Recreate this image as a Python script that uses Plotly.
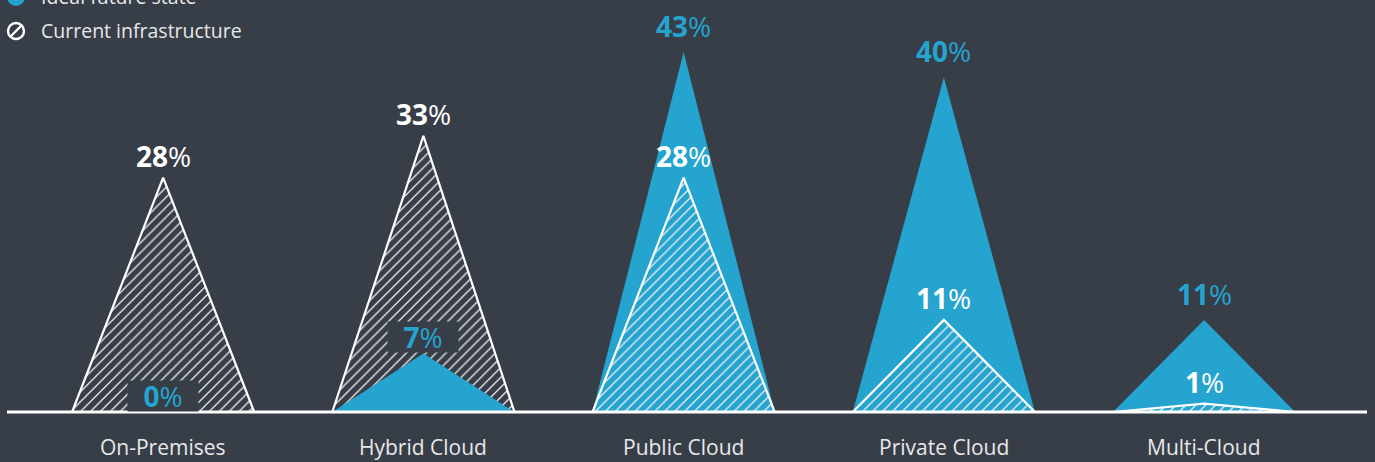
import plotly.graph_objects as go

# Share of respondents by infrastructure type
categories = ["On-Premises", "Hybrid Cloud", "Public Cloud", "Private Cloud", "Multi-Cloud"]
ideal_future = [0, 7, 43, 40, 11]
current_infra = [28, 33, 28, 11, 1]

BG = "#373e48"
BLUE = "#25a4d0"
WHITE = "#ffffff"
FONT = "Open Sans"
HALF_W = 0.35  # half base width of each peak, in category units

fig = go.Figure()


def peak_xy(i, v):
    return [i - HALF_W, i, i + HALF_W, i - HALF_W], [0, v, 0, 0]


for i, cat in enumerate(categories):
    series = [("ideal", ideal_future[i]), ("current", current_infra[i])]
    # taller peak underneath, shorter one drawn over it
    series.sort(key=lambda s: -s[1])
    for kind, v in series:
        xs, ys = peak_xy(i, v)
        if kind == "ideal":
            if v <= 0:
                continue
            fig.add_trace(go.Scatter(
                x=xs, y=ys, mode="lines", fill="toself",
                fillcolor=BLUE, line=dict(width=0, color=BLUE),
                hoverinfo="skip", showlegend=False,
            ))
        else:
            fig.add_trace(go.Scatter(
                x=xs, y=ys, mode="lines", fill="toself",
                fillcolor="rgba(0,0,0,0)",
                fillpattern=dict(shape="/", size=7, solidity=0.18,
                                 fgcolor="#f0f0f0", bgcolor="rgba(0,0,0,0)",
                                 fillmode="replace"),
                line=dict(width=2.2, color=WHITE),
                hoverinfo="skip", showlegend=False,
            ))

# value labels
for i in range(len(categories)):
    cur, ide = current_infra[i], ideal_future[i]
    fig.add_annotation(
        x=i, y=cur, xref="x", yref="y", showarrow=False,
        text=f"<b>{cur}</b>%", font=dict(family=FONT, size=28, color=WHITE),
        yanchor="middle", yshift=22,
    )
    boxed = ide < cur
    fig.add_annotation(
        x=i, y=ide, xref="x", yref="y", showarrow=False,
        text=f"<b>{ide}</b>%", font=dict(family=FONT, size=28, color=BLUE),
        yanchor="middle", yshift=16 if boxed else 26,
        bgcolor=BG if boxed else None, borderpad=0,
        width=70 if boxed else None, height=30 if boxed else None,
    )
    fig.add_annotation(
        x=i, y=0, xref="x", yref="y", showarrow=False,
        text=categories[i], font=dict(family=FONT, size=21, color="#e8e8e8"),
        yanchor="middle", yshift=-35,
    )

# baseline
fig.add_shape(type="line", xref="paper", yref="y", x0=0, x1=1, y0=0, y1=0,
              line=dict(color=WHITE, width=3), layer="above")

# legend
PH = 416.0  # plot height in px
def py(px):
    return 1 - px / PH

def pxx(px):
    return px / 1360.0

fig.add_shape(type="circle", xref="paper", yref="paper",
              x0=pxx(0), x1=pxx(18), y0=py(-12), y1=py(6),
              fillcolor=BLUE, line=dict(width=0))
fig.add_annotation(xref="paper", yref="paper", x=pxx(32), y=py(-3),
                   xanchor="left", yanchor="middle", showarrow=False,
                   text="Ideal future state",
                   font=dict(family=FONT, size=19.5, color="#e8e8e8"))
fig.add_shape(type="circle", xref="paper", yref="paper",
              x0=pxx(1), x1=pxx(17), y0=py(23), y1=py(39),
              fillcolor="rgba(0,0,0,0)", line=dict(width=2.4, color=WHITE))
fig.add_shape(type="line", xref="paper", yref="paper",
              x0=pxx(4), x1=pxx(14), y0=py(36), y1=py(26),
              line=dict(width=2.4, color=WHITE))
fig.add_annotation(xref="paper", yref="paper", x=pxx(32), y=py(31),
                   xanchor="left", yanchor="middle", showarrow=False,
                   text="Current infrastructure",
                   font=dict(family=FONT, size=19.5, color="#e8e8e8"))

fig.update_layout(
    width=1375, height=462,
    margin=dict(l=7, r=8, t=0, b=46),
    paper_bgcolor=BG, plot_bgcolor=BG,
    xaxis=dict(range=[-0.6, 4.626], visible=False, fixedrange=True),
    yaxis=dict(range=[-4 / 8.37, 412 / 8.37], visible=False, fixedrange=True),
    showlegend=False,
)

fig.write_html("out.html")
